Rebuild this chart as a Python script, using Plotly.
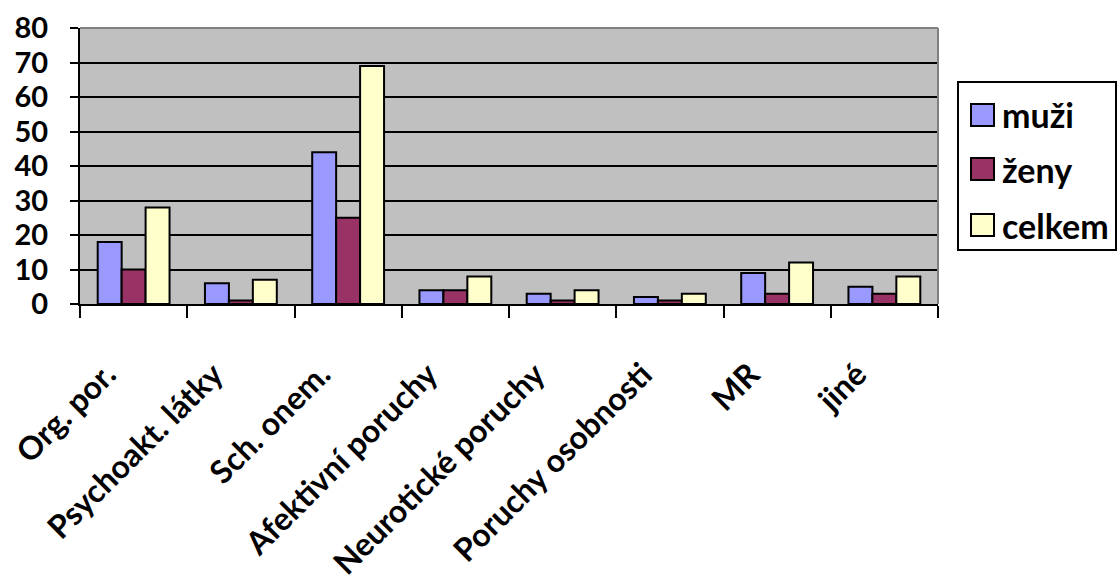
import plotly.graph_objects as go

categories = ["Org. por.", "Psychoakt. látky", "Sch. onem.", "Afektivní poruchy",
              "Neurotické poruchy", "Poruchy osobnosti", "MR", "jiné"]
muzi = [18, 6, 44, 4, 3, 2, 9, 5]
zeny = [10, 1, 25, 4, 1, 1, 3, 3]
celkem = [28, 7, 69, 8, 4, 3, 12, 8]
y_ticks = [0, 10, 20, 30, 40, 50, 60, 70, 80]

series = [("muži", muzi, "#9999FF"), ("ženy", zeny, "#993366"), ("celkem", celkem, "#FFFFCC")]

FONT = "Lato"
W, H = 1119, 585
ML, MR, MT, MB = 80, 181, 28, 281
PW, PH = W - ML - MR, H - MT - MB


def px(x):
    return (x - ML) / PW


def py(y):
    return (H - MB - y) / PH


fig = go.Figure()
for name, vals, color in series:
    fig.add_trace(go.Bar(
        x=categories, y=vals, name=name,
        marker=dict(color=color, line=dict(color="black", width=2)),
        showlegend=False,
    ))

fig.update_layout(
    width=W, height=H,
    margin=dict(l=ML, r=MR, t=MT, b=MB, autoexpand=False),
    paper_bgcolor="white",
    plot_bgcolor="#C0C0C0",
    barmode="group",
    bargap=0.33,
    bargroupgap=0,
    font=dict(family=FONT, size=26, color="black", weight="bold"),
)

fig.update_xaxes(
    automargin=False,
    tickangle=-45,
    tickfont=dict(family=FONT, size=32, color="black", weight="bold"),
    showline=True, linecolor="black", linewidth=2,
    ticks="outside", tickson="boundaries", ticklen=12, tickwidth=2, tickcolor="black",
    ticklabelstandoff=37, ticklabelshift=-27,
    showgrid=False,
)
fig.update_yaxes(
    automargin=False,
    range=[0, 80], tickvals=y_ticks,
    tickfont=dict(family=FONT, size=29, color="black", weight="bold"),
    showline=True, linecolor="black", linewidth=2,
    ticks="outside", ticklen=8, tickwidth=2, tickcolor="black",
    ticklabelstandoff=16,
    showgrid=True, gridcolor="black", gridwidth=2,
    zeroline=False,
)

# gray frame on the top and right of the plot area
fig.add_shape(type="line", xref="paper", yref="paper", x0=0, x1=1, y0=1, y1=1,
              line=dict(color="#808080", width=2), layer="above")
fig.add_shape(type="line", xref="paper", yref="paper", x0=1, x1=1, y0=0, y1=1,
              line=dict(color="#808080", width=2), layer="above")

# legend box with large square swatches
fig.add_shape(type="rect", xref="paper", yref="paper",
              x0=px(958), x1=px(1116), y0=py(250), y1=py(82),
              line=dict(color="black", width=2), fillcolor="white", layer="above")
item_y = [115, 169, 225]
for (name, _, color), yc in zip(series, item_y):
    fig.add_shape(type="rect", xref="paper", yref="paper",
                  x0=px(971), x1=px(994), y0=py(yc + 11), y1=py(yc - 11),
                  line=dict(color="black", width=2), fillcolor=color, layer="above")
    fig.add_annotation(xref="paper", yref="paper", x=px(1000), y=py(yc),
                       xanchor="left", yanchor="middle", showarrow=False,
                       text=name, font=dict(family=FONT, size=34, color="black", weight="bold"))

fig.write_html("out.html")
